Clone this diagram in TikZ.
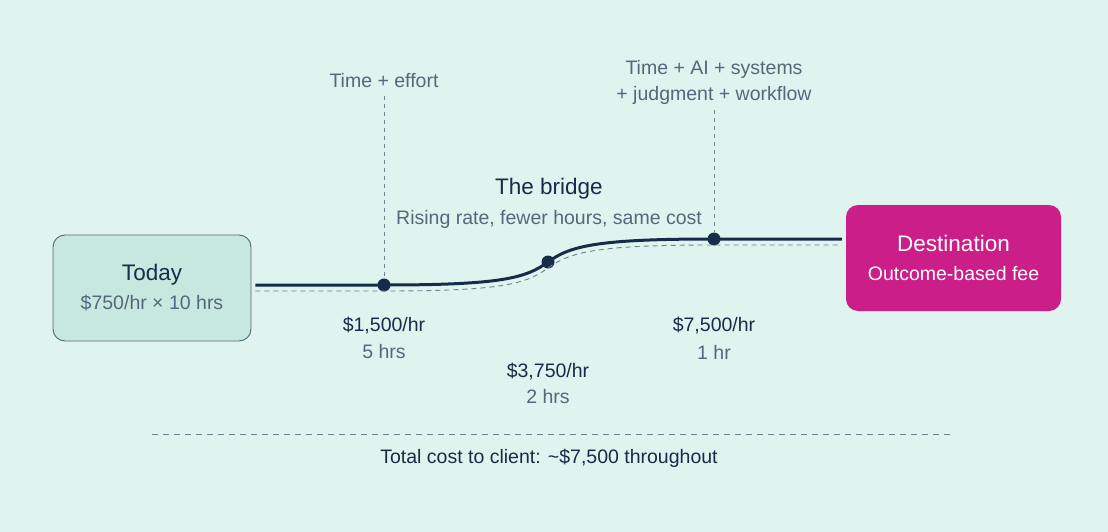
\documentclass[tikz,border=0pt]{standalone}
\usepackage{fontspec}
\setmainfont{Liberation Sans}
\usetikzlibrary{positioning}
\definecolor{bgmint}{RGB}{223,244,239}
\definecolor{todayfill}{RGB}{199,232,223}
\definecolor{todayedge}{RGB}{84,102,120}
\definecolor{destfill}{RGB}{204,30,136}
\definecolor{ink}{RGB}{22,44,72}
\definecolor{slate}{RGB}{84,104,124}
\definecolor{guide}{RGB}{112,128,142}

\begin{document}
\begin{tikzpicture}[
  x=1pt, y=-1pt,
  big/.style={font=\fontsize{22.5}{29}\selectfont},
  small/.style={font=\fontsize{19.5}{26}\selectfont},
  endbox/.style={rounded corners=12pt, minimum width=198pt, minimum height=106pt, align=center, inner sep=0pt, font=\fontsize{19.5}{29}\selectfont},
  label/.style={small, text=slate, align=center, inner sep=0pt},
  rate/.style={small, text=ink, align=center, inner sep=0pt},
  dot/.style={circle, fill=ink, minimum size=13pt, inner sep=0pt},
  bridge/.style={draw=ink, line width=3pt},
  trail/.style={draw=guide, line width=0.9pt, dash pattern=on 5pt off 4pt},
  tick/.style={draw=guide, line width=0.8pt, dash pattern=on 4pt off 4pt}
]
\useasboundingbox (0,0) rectangle (1108,532);
\fill[bgmint] (0,0) rectangle (1108,532);

% end points
\node[endbox, draw=todayedge, line width=0.9pt, fill=todayfill] (today) at (152,288)
  {\textcolor{ink}{\fontsize{22.5}{29}\selectfont Today}\\
   \textcolor{slate}{\$750/hr × 10 hrs}};
\node[endbox, minimum width=215pt, fill=destfill, text=white] (dest) at (953.5,258)
  {{\fontsize{22.5}{29}\selectfont Destination}\\
   Outcome-based fee};

% stops on the bridge
\node[dot] (d1) at (384,285) {};
\node[dot] (d2) at (548,262) {};
\node[dot] (d3) at (714,239) {};

\begin{scope}[transform canvas={yshift=-6pt}]
\draw[trail, shorten <=4pt, shorten >=4pt]
  (today.east |- d1) -- (d1.center) .. controls +(118,0) and +(-22,16) .. (d2.center)
  .. controls +(22,-16) and +(-118,0) .. (d3.center) -- (dest.west |- d3);
\end{scope}
\draw[bridge, shorten <=4pt, shorten >=4pt]
  (today.east |- d1) -- (d1.center) .. controls +(118,0) and +(-22,16) .. (d2.center)
  .. controls +(22,-16) and +(-118,0) .. (d3.center) -- (dest.west |- d3);

% what goes into each stop
\node[label] (effort) at (384,81) {Time + effort};
\node[label] (stack) at (714,82) {Time + AI + systems\\+ judgment + workflow};
\draw[tick] ([yshift=-8pt]effort.south) -- (d1);
\draw[tick] ([yshift=-6pt]stack.south) -- (d3);

\node[big, text=ink, inner sep=0pt] (bridgetitle) at (549,189) {The bridge};
\node[label] (bridgesub) at (549,219) {Rising rate, fewer hours, same cost};

% rates
\node[rate] (r1) at (384,326) {\$1,500/hr};
\node[label] (h1) at (384,352) {5 hrs};
\node[rate] (r2) at (548,372) {\$3,750/hr};
\node[label] (h2) at (548,397) {2 hrs};
\node[rate] (r3) at (714,326) {\$7,500/hr};
\node[label] (h3) at (714,352) {1 hr};

% total
\coordinate (rulel) at (152,434);
\coordinate (ruler) at (955,434);
\draw[draw=guide, line width=0.9pt, dash pattern=on 6pt off 5pt] (rulel) -- (ruler);
\node[rate] (total) at (549,458) {Total cost to client: \textasciitilde\$7,500 throughout};
\end{tikzpicture}
\end{document}
